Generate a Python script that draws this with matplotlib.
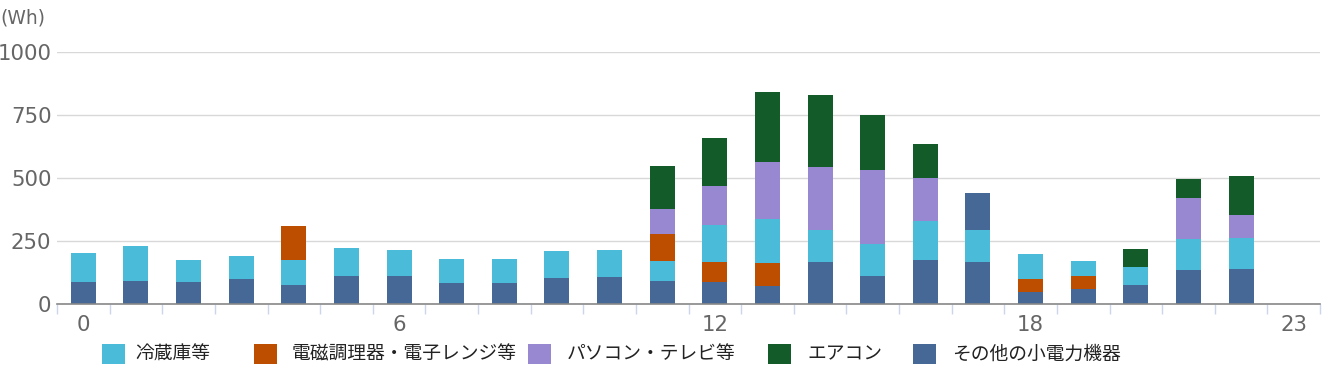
import matplotlib
matplotlib.use("Agg")
import matplotlib.pyplot as plt
from matplotlib.patches import Rectangle
import numpy as np

hours = list(range(24))
xtick_labels = ["0", "6", "12", "18", "23"]
xtick_pos = [0, 6, 12, 18, 23]

series_names = ["冷蔵庫等", "電磁調理器・電子レンジ等", "パソコン・テレビ等", "エアコン", "その他の小電力機器"]
colors = {"冷蔵庫等": "#4abcd9", "電磁調理器・電子レンジ等": "#bd4e00",
          "パソコン・テレビ等": "#9888d1", "エアコン": "#135b29",
          "その他の小電力機器": "#466897"}

other = [87, 91, 87, 99, 75, 111, 111, 83, 83, 103, 107, 91, 87, 73, 166, 111, 174, 166, 49, 59, 75, 135, 139, 0]
fridge = [115, 139, 87, 91, 99, 111, 103, 95, 95, 107, 107, 79, 147, 174, 127, 127, 154, 127, 99, 59, 71, 123, 123, 0]
cooking = [0, 0, 0, 0, 135, 0, 0, 0, 0, 0, 0, 107, 79, 89, 0, 0, 0, 0, 50, 51, 0, 0, 0, 0]
pc_tv = [0, 0, 0, 0, 0, 0, 0, 0, 0, 0, 0, 99, 154, 226, 249, 293, 170, 0, 0, 0, 0, 162, 91, 0]
aircon = [0, 0, 0, 0, 0, 0, 0, 0, 0, 0, 0, 170, 190, 277, 285, 218, 135, 0, 0, 0, 71, 75, 154, 0]
other_extra = [0] * 17 + [146] + [0] * 6

# hours where the fridge segment sits below the cooking segment
fridge_below_cooking = [4, 11]

values = {"冷蔵庫等": fridge, "電磁調理器・電子レンジ等": cooking,
          "パソコン・テレビ等": pc_tv, "エアコン": aircon,
          "その他の小電力機器": other, "extra": other_extra}

W, H = 1331, 380
fig = plt.figure(figsize=(W / 100, H / 100), dpi=100)
ax = fig.add_axes([57 / W, 1 - 304 / H, 1263 / W, (304 - 51.5) / H])

x = np.arange(24)
bw = 0.475
for h in hours:
    if h in fridge_below_cooking:
        order = ["その他の小電力機器", "冷蔵庫等", "電磁調理器・電子レンジ等", "パソコン・テレビ等", "エアコン", "extra"]
    else:
        order = ["その他の小電力機器", "電磁調理器・電子レンジ等", "冷蔵庫等", "パソコン・テレビ等", "エアコン", "extra"]
    b = 0.0
    for key in order:
        v = values[key][h]
        if v > 0:
            c = colors["その他の小電力機器"] if key == "extra" else colors[key]
            ax.bar(x[h], v, width=bw, bottom=b, color=c, linewidth=0, zorder=3)
            b += v

ax.set_xlim(-0.5, 23.5)
ax.set_ylim(0, 1000)
ax.set_yticks([0, 250, 500, 750, 1000])
ax.set_yticklabels(["0", "250", "500", "750", "1000"])
ax.grid(axis="y", color="#d8d8d8", linewidth=1, zorder=0)
ax.set_axisbelow(True)
for s in ["top", "right", "left"]:
    ax.spines[s].set_visible(False)
ax.spines["bottom"].set_color("#888888")
ax.spines["bottom"].set_linewidth(1.2)
ax.spines["bottom"].set_zorder(4)

ax.set_xticks(xtick_pos)
ax.set_xticklabels(xtick_labels)
ax.set_xticks(np.arange(-0.5, 24, 1), minor=True)
ax.tick_params(axis="x", which="major", length=0, pad=8, labelsize=15.3, labelcolor="#666666")
ax.tick_params(axis="x", which="minor", length=7.5, width=1, color="#ccd6eb", direction="out")
ax.tick_params(axis="y", which="major", length=0, pad=4, labelsize=15.3, labelcolor="#666666")
for lab in ax.get_yticklabels() + ax.get_xticklabels():
    lab.set_family("DejaVu Sans")

fig.text(0.0, 1 - 18 / H, "(Wh)", fontsize=13.5, color="#666666", va="center", ha="left",
         family="DejaVu Sans")

# legend (manual layout)
legend_sq_x = [102, 254, 528, 768, 913]
legend_txt_x = [135, 292, 567, 807, 952]
ly = 354
for name, sx, tx in zip(series_names, legend_sq_x, legend_txt_x):
    fig.add_artist(Rectangle((sx / W, (H - ly - 10) / H), 23 / W, 20 / H,
                             transform=fig.transFigure, facecolor=colors[name],
                             edgecolor="none"))
    fig.text(tx / W, 1 - ly / H, name, fontsize=13.5, color="#222222",
             va="center", ha="left", family=["Noto Sans CJK JP", "DejaVu Sans"])

fig.savefig("out.png", dpi=100)
